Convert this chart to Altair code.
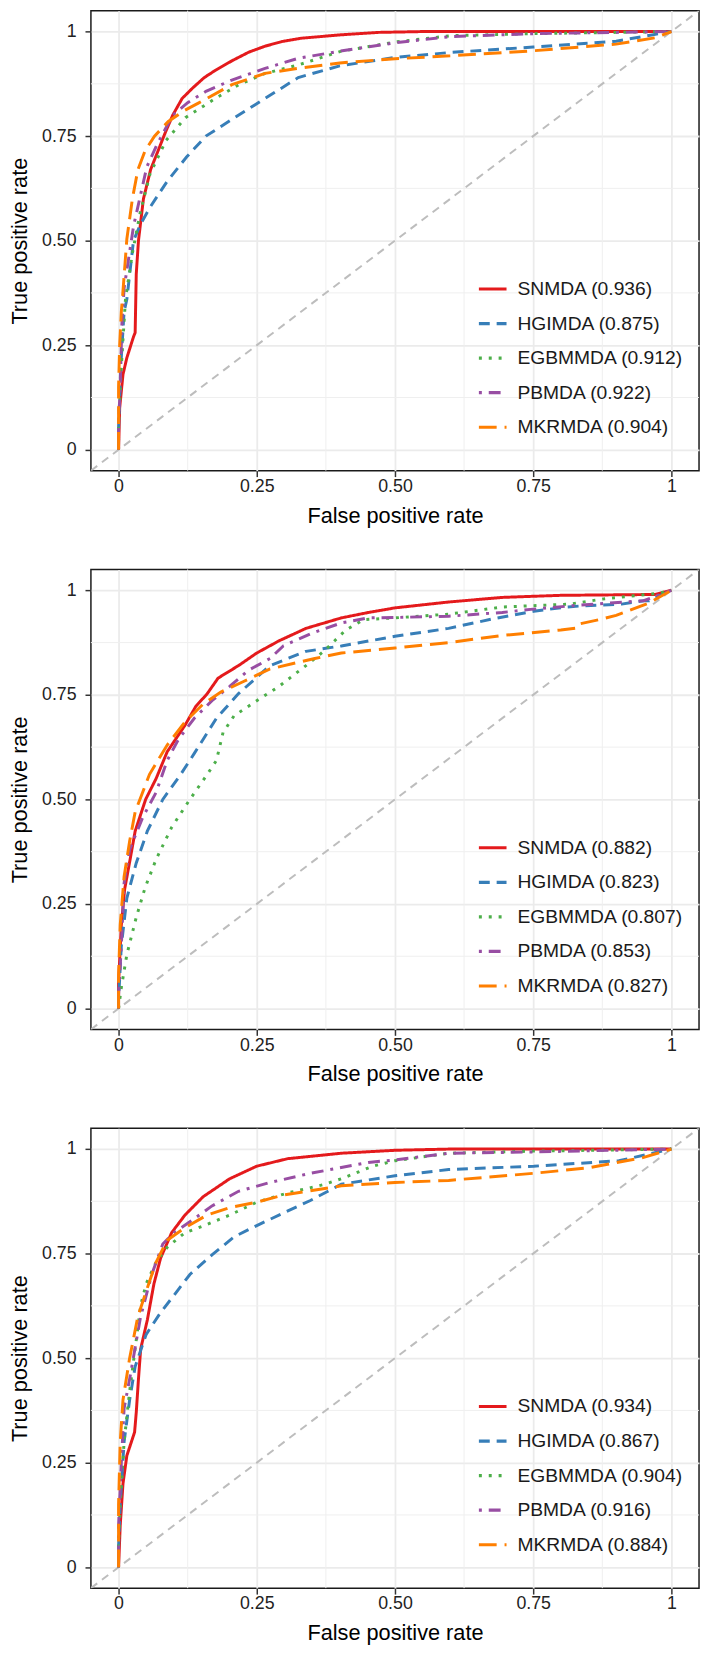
import altair as alt
import pandas as pd

FONT = "Liberation Sans"
methods = ["SNMDA", "HGIMDA", "EGBMMDA", "PBMDA", "MKRMDA"]
colors = ["#E41A1C", "#377EB8", "#4DAF4A", "#984EA3", "#FF7F00"]
dashes = [[1, 0], [11, 7], [3, 7], [3, 7, 12, 7], [18, 8]]

axis_domain = [-0.05, 1.05]
major_ticks = [0, 0.25, 0.5, 0.75, 1]
minor_ticks = [0.125, 0.375, 0.625, 0.875]

auc_p1 = ["0.936", "0.875", "0.912", "0.922", "0.904"]
auc_p2 = ["0.882", "0.823", "0.807", "0.853", "0.827"]
auc_p3 = ["0.934", "0.867", "0.904", "0.916", "0.884"]

# ---------------- Panel 1 ----------------
p1_snmda_fpr = [0, 0.002, 0.008, 0.015, 0.027, 0.030, 0.032, 0.036, 0.045, 0.058, 0.070, 0.085, 0.098, 0.115, 0.134, 0.155, 0.176, 0.205, 0.236, 0.265, 0.295, 0.330, 0.400, 0.470, 0.550, 0.700, 0.850, 1.0]
p1_snmda_tpr = [0, 0.10, 0.18, 0.22, 0.27, 0.28, 0.42, 0.50, 0.60, 0.67, 0.71, 0.76, 0.80, 0.84, 0.865, 0.89, 0.908, 0.93, 0.951, 0.965, 0.976, 0.984, 0.992, 0.998, 1.0, 1.0, 1.0, 1.0]
p1_hgimda_fpr = [0, 0, 0.004, 0.010, 0.015, 0.027, 0.040, 0.057, 0.087, 0.123, 0.158, 0.205, 0.265, 0.325, 0.40, 0.50, 0.60, 0.75, 0.90, 1.0]
p1_hgimda_tpr = [0, 0.05, 0.20, 0.33, 0.36, 0.50, 0.54, 0.58, 0.64, 0.70, 0.75, 0.79, 0.84, 0.89, 0.918, 0.938, 0.95, 0.963, 0.977, 1.0]
p1_egbmmda_fpr = [0, 0, 0.005, 0.0125, 0.025, 0.039, 0.057, 0.086, 0.121, 0.176, 0.218, 0.265, 0.325, 0.40, 0.50, 0.60, 0.75, 0.90, 1.0]
p1_egbmmda_tpr = [0, 0.05, 0.20, 0.36, 0.47, 0.566, 0.66, 0.74, 0.794, 0.841, 0.873, 0.90, 0.92, 0.952, 0.975, 0.99, 0.995, 0.998, 1.0]
p1_pbmda_fpr = [0, 0, 0.003, 0.006, 0.010, 0.027, 0.051, 0.070, 0.098, 0.125, 0.158, 0.205, 0.265, 0.325, 0.40, 0.50, 0.60, 0.75, 1.0]
p1_pbmda_tpr = [0, 0.06, 0.15, 0.30, 0.386, 0.534, 0.676, 0.731, 0.80, 0.83, 0.857, 0.884, 0.912, 0.936, 0.953, 0.973, 0.988, 0.995, 1.0]
p1_mkrmda_fpr = [0, 0, 0.002, 0.005, 0.007, 0.015, 0.025, 0.035, 0.048, 0.065, 0.090, 0.120, 0.146, 0.205, 0.265, 0.325, 0.40, 0.50, 0.60, 0.75, 0.90, 0.97, 1.0]
p1_mkrmda_tpr = [0, 0.15, 0.25, 0.33, 0.362, 0.504, 0.60, 0.67, 0.715, 0.75, 0.785, 0.812, 0.83, 0.873, 0.90, 0.912, 0.925, 0.935, 0.942, 0.954, 0.97, 0.985, 1.0]

# ---------------- Panel 2 ----------------
p2_snmda_fpr = [0, 0, 0.005, 0.011, 0.02, 0.03, 0.049, 0.068, 0.088, 0.12, 0.14, 0.16, 0.18, 0.217, 0.25, 0.29, 0.339, 0.403, 0.452, 0.5, 0.597, 0.694, 0.8, 0.97, 1.0]
p2_snmda_tpr = [0, 0.06, 0.20, 0.285, 0.35, 0.424, 0.50, 0.55, 0.614, 0.677, 0.723, 0.752, 0.79, 0.82, 0.85, 0.879, 0.909, 0.934, 0.947, 0.958, 0.972, 0.983, 0.988, 0.99, 1.0]
p2_hgimda_fpr = [0, 0, 0.005, 0.015, 0.032, 0.052, 0.08, 0.112, 0.137, 0.177, 0.217, 0.274, 0.339, 0.403, 0.5, 0.597, 0.678, 0.751, 0.81, 0.84, 0.91, 0.95, 0.96, 1.0]
p2_hgimda_tpr = [0, 0.02, 0.15, 0.264, 0.348, 0.424, 0.50, 0.559, 0.61, 0.694, 0.753, 0.82, 0.854, 0.867, 0.89, 0.909, 0.932, 0.95, 0.96, 0.963, 0.967, 0.975, 0.975, 1.0]
p2_egbmmda_fpr = [0, 0.005, 0.015, 0.032, 0.048, 0.068, 0.096, 0.129, 0.16, 0.177, 0.189, 0.209, 0.25, 0.29, 0.339, 0.371, 0.411, 0.444, 0.5, 0.597, 0.694, 0.816, 0.88, 0.955, 0.977, 1.0]
p2_egbmmda_tpr = [0, 0.05, 0.129, 0.218, 0.289, 0.357, 0.433, 0.50, 0.559, 0.593, 0.66, 0.70, 0.736, 0.77, 0.82, 0.854, 0.905, 0.93, 0.934, 0.943, 0.96, 0.967, 0.98, 0.99, 0.993, 1.0]
p2_pbmda_fpr = [0, 0, 0.005, 0.01, 0.02, 0.044, 0.068, 0.088, 0.108, 0.137, 0.169, 0.201, 0.234, 0.274, 0.298, 0.347, 0.403, 0.452, 0.5, 0.597, 0.694, 0.75, 0.82, 0.915, 0.95, 1.0]
p2_pbmda_tpr = [0, 0.03, 0.15, 0.30, 0.38, 0.458, 0.517, 0.593, 0.643, 0.694, 0.736, 0.77, 0.808, 0.837, 0.867, 0.896, 0.922, 0.934, 0.935, 0.938, 0.947, 0.955, 0.963, 0.972, 0.975, 1.0]
p2_mkrmda_fpr = [0, 0, 0.003, 0.01, 0.02, 0.03, 0.056, 0.088, 0.12, 0.153, 0.185, 0.226, 0.274, 0.355, 0.403, 0.5, 0.597, 0.694, 0.80, 0.83, 0.835, 0.87, 0.90, 0.93, 0.96, 1.0]
p2_mkrmda_tpr = [0, 0.08, 0.20, 0.315, 0.40, 0.47, 0.56, 0.63, 0.685, 0.728, 0.757, 0.782, 0.812, 0.837, 0.85, 0.862, 0.875, 0.892, 0.905, 0.91, 0.92, 0.93, 0.94, 0.955, 0.97, 1.0]

# ---------------- Panel 3 ----------------
p3_snmda_fpr = [0, 0.003, 0.008, 0.015, 0.029, 0.032, 0.036, 0.04, 0.052, 0.064, 0.076, 0.096, 0.12, 0.153, 0.201, 0.25, 0.306, 0.403, 0.5, 0.6, 1.0]
p3_snmda_tpr = [0, 0.10, 0.20, 0.267, 0.323, 0.37, 0.45, 0.522, 0.591, 0.678, 0.739, 0.80, 0.842, 0.886, 0.929, 0.959, 0.977, 0.99, 0.997, 1.0, 1.0]
p3_hgimda_fpr = [0, 0, 0.003, 0.01, 0.02, 0.03, 0.05, 0.076, 0.096, 0.129, 0.169, 0.209, 0.25, 0.298, 0.347, 0.403, 0.5, 0.597, 0.751, 0.905, 1.0]
p3_hgimda_tpr = [0, 0.05, 0.15, 0.30, 0.40, 0.48, 0.557, 0.609, 0.643, 0.70, 0.747, 0.79, 0.817, 0.847, 0.877, 0.916, 0.936, 0.951, 0.959, 0.972, 1.0]
p3_egbmmda_fpr = [0, 0, 0.003, 0.01, 0.02, 0.04, 0.05, 0.068, 0.088, 0.12, 0.153, 0.201, 0.25, 0.306, 0.371, 0.403, 0.46, 0.5, 0.597, 0.75, 1.0]
p3_egbmmda_tpr = [0, 0.05, 0.15, 0.30, 0.42, 0.626, 0.678, 0.73, 0.765, 0.80, 0.816, 0.842, 0.873, 0.895, 0.915, 0.929, 0.959, 0.972, 0.99, 0.995, 1.0]
p3_pbmda_fpr = [0, 0, 0.005, 0.01, 0.02, 0.04, 0.06, 0.08, 0.10, 0.129, 0.169, 0.217, 0.274, 0.347, 0.452, 0.5, 0.597, 0.75, 1.0]
p3_pbmda_tpr = [0, 0.10, 0.25, 0.38, 0.45, 0.60, 0.70, 0.773, 0.80, 0.826, 0.864, 0.899, 0.92, 0.942, 0.968, 0.974, 0.99, 0.993, 1.0]
p3_mkrmda_fpr = [0, 0, 0.003, 0.008, 0.02, 0.035, 0.05, 0.068, 0.088, 0.12, 0.16, 0.201, 0.25, 0.298, 0.403, 0.5, 0.597, 0.751, 0.85, 0.95, 1.0]
p3_mkrmda_tpr = [0, 0.15, 0.30, 0.40, 0.50, 0.60, 0.66, 0.73, 0.782, 0.812, 0.842, 0.86, 0.873, 0.89, 0.912, 0.92, 0.925, 0.942, 0.955, 0.98, 1.0]

panel_curves = [
    [(p1_snmda_fpr, p1_snmda_tpr), (p1_hgimda_fpr, p1_hgimda_tpr), (p1_egbmmda_fpr, p1_egbmmda_tpr),
     (p1_pbmda_fpr, p1_pbmda_tpr), (p1_mkrmda_fpr, p1_mkrmda_tpr)],
    [(p2_snmda_fpr, p2_snmda_tpr), (p2_hgimda_fpr, p2_hgimda_tpr), (p2_egbmmda_fpr, p2_egbmmda_tpr),
     (p2_pbmda_fpr, p2_pbmda_tpr), (p2_mkrmda_fpr, p2_mkrmda_tpr)],
    [(p3_snmda_fpr, p3_snmda_tpr), (p3_hgimda_fpr, p3_hgimda_tpr), (p3_egbmmda_fpr, p3_egbmmda_tpr),
     (p3_pbmda_fpr, p3_pbmda_tpr), (p3_mkrmda_fpr, p3_mkrmda_tpr)],
]
panel_aucs = [auc_p1, auc_p2, auc_p3]

PW, PH = 616, 466
label_expr = "datum.value == 0 ? '0' : datum.value == 1 ? '1' : format(datum.value, '.2f')"


def make_panel(curves, aucs):
    labels = [f"{m} ({a})" for m, a in zip(methods, aucs)]
    rows = []
    for lab, (fpr, tpr) in zip(labels, curves):
        for i, (xv, yv) in enumerate(zip(fpr, tpr)):
            rows.append({"label": lab, "fpr": xv, "tpr": yv, "idx": i})
    df = pd.DataFrame(rows)

    xenc = alt.X("fpr:Q", scale=alt.Scale(domain=axis_domain, nice=False, zero=False),
                 axis=alt.Axis(values=major_ticks, labelExpr=label_expr, title="False positive rate"))
    yenc = alt.Y("tpr:Q", scale=alt.Scale(domain=axis_domain, nice=False, zero=False),
                 axis=alt.Axis(values=major_ticks, labelExpr=label_expr, title="True positive rate"))

    minor_df = pd.DataFrame({"v": minor_ticks})
    vminor = alt.Chart(minor_df).mark_rule(color="#EFEFEF", strokeWidth=1).encode(
        x=alt.X("v:Q", scale=alt.Scale(domain=axis_domain, nice=False, zero=False)))
    hminor = alt.Chart(minor_df).mark_rule(color="#EFEFEF", strokeWidth=1).encode(
        y=alt.Y("v:Q", scale=alt.Scale(domain=axis_domain, nice=False, zero=False)))

    diag_df = pd.DataFrame({"fpr": axis_domain, "tpr": axis_domain})
    diag = alt.Chart(diag_df).mark_line(color="#BDBDBD", strokeWidth=2, strokeDash=[8, 6], clip=True).encode(
        x=xenc, y=yenc)

    leg = alt.Legend(title=None, orient="none", legendX=391, legendY=266,
                     symbolType="stroke", symbolSize=784, symbolStrokeWidth=3.2,
                     labelFontSize=19.5, labelFont=FONT, labelColor="#1a1a1a",
                     rowPadding=9, labelOffset=9, labelLimit=400)
    lines = alt.Chart(df).mark_line(strokeWidth=3, clip=True).encode(
        x=xenc, y=yenc,
        color=alt.Color("label:N", scale=alt.Scale(domain=labels, range=colors), legend=leg),
        strokeDash=alt.StrokeDash("label:N", scale=alt.Scale(domain=labels, range=dashes), legend=leg),
        order=alt.Order("idx:Q"),
    )
    return alt.layer(vminor, hminor, diag, lines).properties(width=PW, height=PH)


panels = [make_panel(c, a) for c, a in zip(panel_curves, panel_aucs)]

chart = alt.vconcat(*panels, spacing=41).resolve_scale(
    color="independent", strokeDash="independent"
).properties(
    padding={"left": 0, "top": -10, "right": 0, "bottom": -2}
).configure(
    font=FONT
).configure_view(
    stroke="#1a1a1a", strokeWidth=1.5
).configure_axis(
    domain=False, grid=True, gridColor="#EBEBEB", gridWidth=1.8,
    tickColor="#333333", tickSize=6, tickWidth=1.5,
    labelFont=FONT, labelFontSize=18, labelColor="#222222",
    titleFont=FONT, titleFontSize=22, titleFontWeight="normal", titleColor="#000000",
).configure_axisY(
    labelPadding=9, titlePadding=10
).configure_axisX(
    labelPadding=1, titlePadding=10
)

chart.save("out.html", embed_options={"renderer": "svg", "actions": False})
